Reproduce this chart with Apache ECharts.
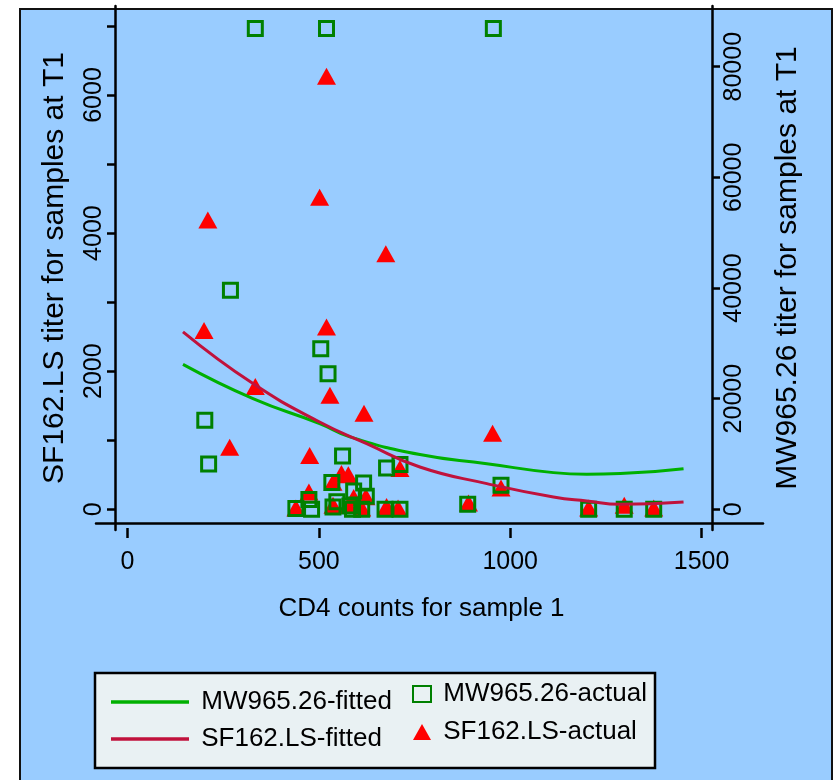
<!DOCTYPE html>
<html>
<head>
<meta charset="utf-8">
<script src="https://cdn.jsdelivr.net/npm/echarts@6/dist/echarts.min.js"></script>
<style>
  html, body { margin: 0; padding: 0; background: #fff; }
  #chart { width: 839px; height: 780px; }
</style>
</head>
<body>
<div id="chart"></div>
<script>
// MW965.26 actual titers (right axis)
const mwCd4 = [202, 212, 269, 334, 505, 520, 524, 956, 562, 677, 712, 534, 617, 591, 624,
  474, 440, 481, 537, 547, 581, 588, 612, 673, 712, 889, 976, 1205, 1298, 1375];
const mwTiter = [16100, 8200, 39600, 86900, 29000, 86900, 24500, 86900, 9650, 7450, 8100, 4850, 4750, 3300, 2350,
  1750, 130, 0, 400, 1370, 600, 0, 0, 0, 0, 900, 4350, 0, 0, 0];

// SF162.LS actual titers (left axis)
const sfCd4 = [520, 502, 210, 675, 200, 520, 334, 529, 618, 267, 954, 476, 559, 577, 537,
  474, 712, 623, 591, 440, 537, 577, 612, 677, 707, 891, 976, 1205, 1298, 1375];
const sfTiter = [6270, 4520, 4190, 3700, 2590, 2640, 1780, 1650, 1390, 900, 1100, 780, 520, 500, 390,
  250, 590, 180, 170, 20, 60, 60, 20, 40, 20, 90, 310, 20, 60, 20];

// fitted curves
const mwFitCd4 = [145, 328, 502, 581, 764, 939, 1113, 1200, 1288, 1453];
const mwFitted = [26200, 20000, 15500, 13100, 9900, 8250, 6630, 6330, 6450, 7340];
const sfFitCd4 = [145, 328, 502, 625, 764, 939, 1113, 1200, 1288, 1453];
const sfFitted = [2570, 1820, 1264, 951, 612, 372, 178, 120, 72, 106];

const xTicks = [0, 500, 1000, 1500];
const leftTicks = [0, 1000, 2000, 3000, 4000, 5000, 6000, 7000];
const leftLabels = [0, 2000, 4000, 6000];
const rightTicks = [0, 20000, 40000, 60000, 80000];

const FONT = '"Liberation Sans", Arial, sans-serif';
const zip = (a, b) => a.map((v, i) => [v, b[i]]);

const chart = echarts.init(document.getElementById('chart'));

const xMin = -82.3, xMax = 1660.6;
const lMin = -300, lMax = 7289;
const rMin = -3741, rMax = 90971;

const axisLineStyle = { color: '#000', width: 2.5 };
const plain = v => String(v);

const option = {
  backgroundColor: '#fff',
  animation: false,
  textStyle: { fontFamily: FONT, color: '#000' },
  graphic: [
    { type: 'rect', z: -10, shape: { x: 20, y: 9, width: 812, height: 800 },
      style: { fill: '#99CCFF', stroke: '#111', lineWidth: 2 } },
    { type: 'rect', z: -9, shape: { x: 95, y: 673, width: 560, height: 95 },
      style: { fill: '#E9F1F3', stroke: '#000', lineWidth: 2.5 } }
  ],
  grid: { left: 96, right: 76, top: 6, bottom: 250, outerBoundsMode: 'none' },
  xAxis: [
    {
      type: 'value', min: xMin, max: xMax, position: 'bottom', offset: -7,
      axisLine: { show: true, onZero: false, lineStyle: axisLineStyle },
      axisTick: { show: false }, axisLabel: { show: false }, splitLine: { show: false }
    },
    {
      type: 'value', min: xMin, max: xMax, position: 'bottom', offset: -2,
      axisLine: { show: false, onZero: false },
      axisTick: { show: true, length: 10, customValues: xTicks, lineStyle: axisLineStyle },
      axisLabel: { customValues: xTicks, formatter: plain, margin: 22, fontSize: 25, color: '#000', fontFamily: FONT },
      splitLine: { show: false },
      name: 'CD4 counts for sample 1', nameLocation: 'middle', nameGap: 68,
      nameTextStyle: { fontSize: 26, color: '#000', fontFamily: FONT, padding: [0, 16, 0, 0] }
    }
  ],
  yAxis: [
    {
      type: 'value', position: 'left', min: lMin, max: lMax, offset: -19,
      axisLine: { show: true, onZero: false, lineStyle: axisLineStyle },
      axisTick: { show: true, length: 8, customValues: leftTicks, lineStyle: axisLineStyle },
      axisLabel: { customValues: leftLabels, formatter: plain, rotate: 90, margin: 8, fontSize: 25, color: '#000', fontFamily: FONT },
      splitLine: { show: false },
      name: 'SF162.LS titer for samples at T1', nameLocation: 'middle', nameGap: 45,
      nameTextStyle: { fontSize: 30, color: '#000', fontFamily: FONT }
    },
    {
      type: 'value', position: 'right', min: rMin, max: rMax, offset: -51,
      axisLine: { show: true, onZero: false, lineStyle: axisLineStyle },
      axisTick: { show: true, length: 8, customValues: rightTicks, lineStyle: axisLineStyle },
      axisLabel: { customValues: rightTicks, formatter: plain, rotate: 90, margin: 10, fontSize: 25, color: '#000', fontFamily: FONT },
      splitLine: { show: false },
      name: 'MW965.26 titer for samples at T1', nameLocation: 'middle', nameGap: 61,
      nameTextStyle: { fontSize: 30, color: '#000', fontFamily: FONT }
    }
  ],
  legend: [
    {
      data: ['MW965.26-fitted', 'SF162.LS-fitted'], orient: 'vertical', icon: 'rect',
      left: 111, top: 689, padding: 0, itemWidth: 78, itemHeight: 3.5, itemGap: 11,
      formatter: n => ' ' + n,
      textStyle: { fontSize: 26, color: '#000', fontFamily: FONT }
    },
    {
      data: ['MW965.26-actual', 'SF162.LS-actual'], orient: 'vertical',
      left: 412, top: 681, padding: 0, itemWidth: 18, itemHeight: 16, itemGap: 12,
      formatter: n => ' ' + n,
      textStyle: { fontSize: 26, color: '#000', fontFamily: FONT }
    }
  ],
  series: [
    {
      name: 'MW965.26-fitted', type: 'line', xAxisIndex: 0, yAxisIndex: 1,
      data: zip(mwFitCd4, mwFitted), smooth: true, symbol: 'none',
      lineStyle: { color: '#00B000', width: 3 }, itemStyle: { color: '#00B000' }
    },
    {
      name: 'SF162.LS-fitted', type: 'line', xAxisIndex: 0, yAxisIndex: 0,
      data: zip(sfFitCd4, sfFitted), smooth: true, symbol: 'none',
      lineStyle: { color: '#C0123C', width: 3 }, itemStyle: { color: '#C0123C' }
    },
    {
      name: 'SF162.LS-actual', type: 'scatter', xAxisIndex: 0, yAxisIndex: 0,
      data: zip(sfCd4, sfTiter), symbol: 'triangle', symbolSize: [19, 17],
      itemStyle: { color: '#FF0000', opacity: 1 }
    },
    {
      name: 'MW965.26-actual', type: 'scatter', xAxisIndex: 0, yAxisIndex: 1,
      data: zip(mwCd4, mwTiter), symbol: 'rect', symbolSize: 14,
      itemStyle: { color: 'transparent', borderColor: '#008000', borderWidth: 3, opacity: 1 }
    }
  ]
};

chart.setOption(option);
</script>
</body>
</html>
